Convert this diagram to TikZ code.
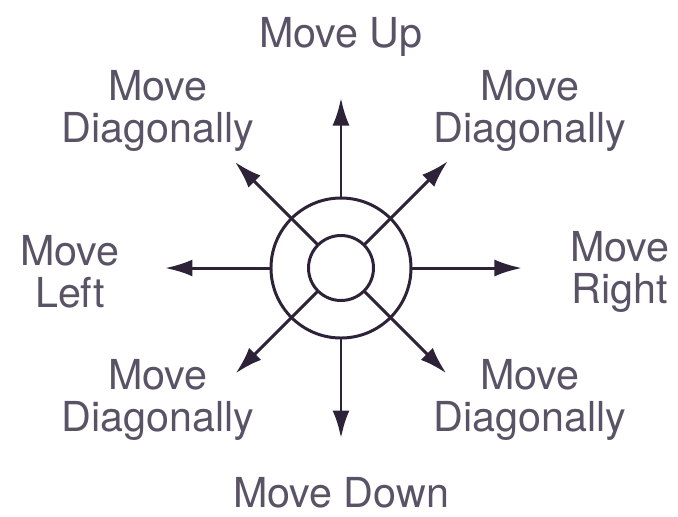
\documentclass[tikz,border=0pt]{standalone}
\usepackage{fontspec}
\setmainfont{TeX Gyre Heros}
\usepackage{xcolor}
\definecolor{padink}{HTML}{2E2238}
\definecolor{padtext}{HTML}{5A5366}
\usepackage{tikz}
\usetikzlibrary{arrows.meta,positioning}

\begin{document}
\begin{tikzpicture}[font=\fontsize{23.5}{24}\selectfont,
 ring/.style={circle,draw=padink,line width=1.7pt,inner sep=0pt,outer sep=0pt},
 lbl/.style={text=padtext,align=center,inner sep=0pt},
 arr/.style={-{Latex[length=5.5mm,width=3.4mm]},draw=padink,line width=1.7pt}]
\useasboundingbox (-6.82,-4.96) rectangle (6.74,5.36);
\node[ring,minimum size=2.8cm] (outer) at (0,0) {};
\node[ring,minimum size=1.3cm] (inner) at (0,0) {};
% arrow ends
\coordinate (up) at (0,3.4);
\coordinate (down) at (0,-3.4);
\coordinate (left) at (-3.52,0);
\coordinate (right) at (3.62,0);
\coordinate (ul) at (135:3.0);
\coordinate (ur) at (45:3.02);
\coordinate (dl) at (225:2.98);
\coordinate (dr) at (-45:2.98);
% labels
\node[lbl] (tUp) at (0,4.62) {Move Up};
\node[lbl] (tDown) at (0,-4.5) {Move Down};
\node[lbl] (tLeft) at (-5.42,-0.08) {Move\\Left};
\node[lbl] (tRight) at (5.58,-0.08) {Move\\Right};
\node[lbl] (tUL) at (-3.66,3.14) {Move\\Diagonally};
\node[lbl] (tUR) at (3.78,3.14) {Move\\Diagonally};
\node[lbl] (tDL) at (-3.66,-2.64) {Move\\Diagonally};
\node[lbl] (tDR) at (3.78,-2.64) {Move\\Diagonally};
\draw[arr] (outer.north)--(up);%
\draw[arr] (outer.south)--(down);%
\draw[arr] (outer.west)--(left);%
\draw[arr] (outer.east)--(right);
\draw[arr] (inner.135)--(ul);%
\draw[arr] (inner.45)--(ur);%
\draw[arr] (inner.225)--(dl);%
\draw[arr] (inner.-45)--(dr);
\end{tikzpicture}
\end{document}
